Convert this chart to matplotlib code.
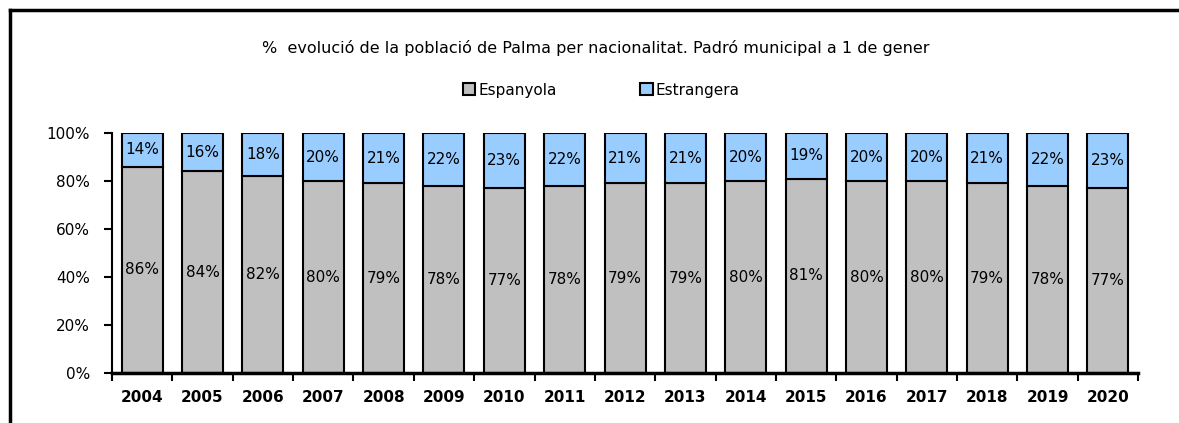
import matplotlib.pyplot as plt
import numpy as np

years = ["2004", "2005", "2006", "2007", "2008", "2009", "2010", "2011", "2012",
         "2013", "2014", "2015", "2016", "2017", "2018", "2019", "2020"]
espanyola = [86, 84, 82, 80, 79, 78, 77, 78, 79, 79, 80, 81, 80, 80, 79, 78, 77]
estrangera = [14, 16, 18, 20, 21, 22, 23, 22, 21, 21, 20, 19, 20, 20, 21, 22, 23]

plt.rcParams['font.family'] = ['DejaVu Sans']

fig = plt.figure(figsize=(11.79, 4.23), dpi=100)
ax = fig.add_axes([0.095, 0.118, 0.8703, 0.5675])

x = np.arange(len(years))
w = 0.68
b1 = ax.bar(x, espanyola, w, color="#C0C0C0", edgecolor="black", linewidth=1.5, label="Espanyola")
b2 = ax.bar(x, estrangera, w, bottom=espanyola, color="#99CCFF", edgecolor="black", linewidth=1.5, label="Estrangera")

# etiquetes dins les barres
for i in range(len(years)):
    ax.text(x[i], espanyola[i] / 2, f"{espanyola[i]}%", ha="center", va="center", fontsize=11)
    ax.text(x[i], espanyola[i] + estrangera[i] / 2, f"{estrangera[i]}%", ha="center", va="center", fontsize=11)

ax.set_xlim(-0.5, len(years) - 0.5)
ax.set_ylim(0, 100)
ax.set_yticks([0, 20, 40, 60, 80, 100])
ax.set_yticklabels([f"{v}%" for v in [0, 20, 40, 60, 80, 100]], fontsize=11)
ax.set_xticks(x)
ax.set_xticklabels(years, fontsize=11, fontweight="bold")
ax.set_xticks(np.arange(len(years) + 1) - 0.5, minor=True)
ax.tick_params(axis="x", which="major", length=0, pad=12)
ax.tick_params(axis="x", which="minor", length=6, width=1.5, direction="out")
ax.tick_params(axis="y", length=6, width=1.5, direction="out", pad=10)
ax.spines["top"].set_visible(False)
ax.spines["right"].set_visible(False)
ax.spines["left"].set_linewidth(1.5)
ax.spines["bottom"].set_linewidth(2.5)

fig.text(0.505, 0.886, "%  evolució de la població de Palma per nacionalitat. Padró municipal a 1 de gener",
         ha="center", va="center", fontsize=11.5)
fig.legend(handles=[b1, b2], loc="center", bbox_to_anchor=(0.51, 0.787), ncol=2, frameon=False,
           fontsize=11, handlelength=0.8, handleheight=0.8, handletextpad=0.2, columnspacing=5.5)

# marc exterior
fig.add_artist(plt.Line2D([10 / 1179, 1], [1 - 10 / 423, 1 - 10 / 423], color="black", linewidth=2.5, transform=fig.transFigure))
fig.add_artist(plt.Line2D([10 / 1179, 10 / 1179], [0, 1 - 10 / 423], color="black", linewidth=2.5, transform=fig.transFigure))

plt.savefig("out.png", dpi=100)
